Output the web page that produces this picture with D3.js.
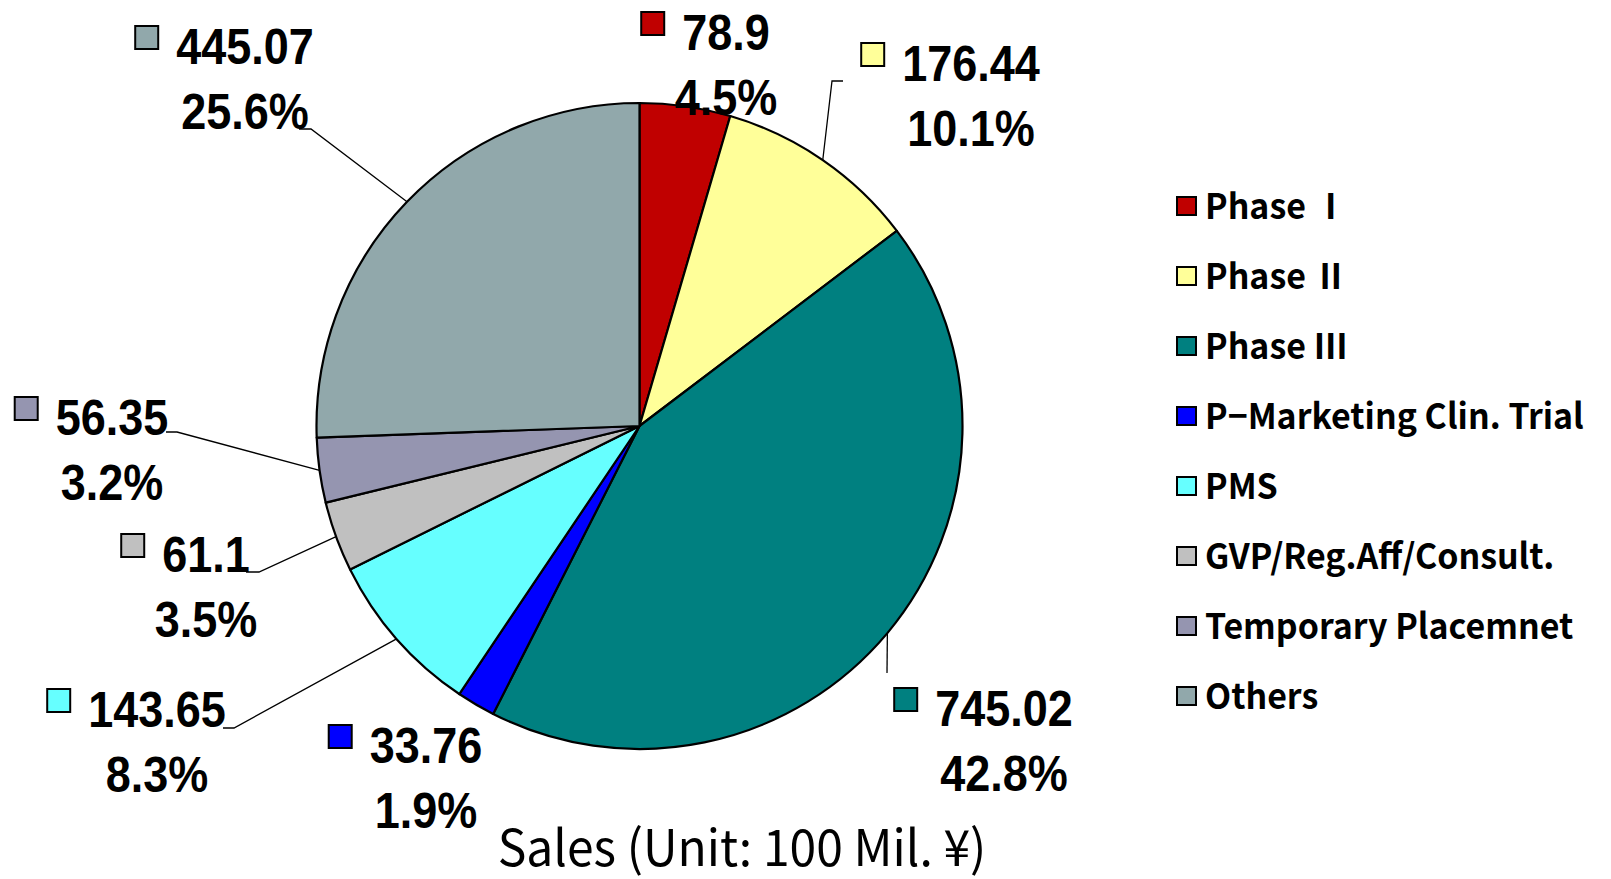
<!DOCTYPE html>
<html>
<head>
<meta charset="utf-8">
<script src="https://cdn.jsdelivr.net/npm/d3@7"></script>
<style>
  body { margin: 0; background: #fff; }
  svg { display: block; }
  .legend text { font-feature-settings: "palt" 1; }
</style>
</head>
<body>
<svg id="chart"></svg>
<script>
// data
var categories = ["Phase \u2160", "Phase \u2161", "Phase \u2162", "P\u2212Marketing Clin. Trial", "PMS", "GVP/Reg.Aff/Consult.", "Temporary Placemnet", "Others"];
var sales = [78.9, 176.44, 745.02, 33.76, 143.65, 61.1, 56.35, 445.07];
var colors = ["#C00000", "#FFFF99", "#008080", "#0000FF", "#66FFFF", "#C0C0C0", "#9595B0", "#91A8AB"];
var axisTitle = "Sales (Unit: 100 Mil. \u00A5)";

// layout
var width = 1611, height = 879;
var cx = 639.5, cy = 426, radius = 323;
// hand placed data labels: text center x, value baseline, leader elbow points (absolute)
var labelPos = [
  {x: 726, y: 50,  lead: []},
  {x: 971, y: 81,  lead: [[832, 81], [843, 81]]},
  {x: 1004, y: 726, lead: [[887, 673]]},
  {x: 426, y: 763, lead: []},
  {x: 157, y: 727, lead: [[234, 728], [223, 728]]},
  {x: 206, y: 572, lead: [[259, 572], [246, 572]]},
  {x: 112, y: 435, lead: [[177, 432], [166, 432]]},
  {x: 245, y: 64,  lead: [[311, 129], [299, 129]]}
];

var total = d3.sum(sales);
var pct = d3.format(".1%");

var svg = d3.select('#chart')
    .attr('width', width)
    .attr('height', height);

var pieData = d3.pie().sort(null).value(d => d)(sales);
var arc = d3.arc().innerRadius(0).outerRadius(radius);
var edge = d3.arc().innerRadius(radius).outerRadius(radius);

var chart = svg.append('g')
    .attr('transform', 'translate(' + cx + ',' + cy + ')');

chart.selectAll('.arc')
    .data(pieData)
  .enter().append('path')
    .attr('class', 'arc')
    .attr('fill', (d, i) => colors[i])
    .attr('stroke', '#000')
    .attr('stroke-width', 2.2)
    .attr('stroke-linejoin', 'round')
    .attr('d', arc);

// leader lines from slice edge (mid angle) to label
pieData.forEach(function(d, i) {
  var lp = labelPos[i];
  if (!lp.lead.length) return;
  var c = edge.centroid(d);
  var pts = [[cx + c[0], cy + c[1]]].concat(lp.lead);
  svg.append('path')
      .attr('d', d3.line()(pts))
      .attr('fill', 'none')
      .attr('stroke', '#000')
      .attr('stroke-width', 1.3);
});

// data labels
var labelFont = '"Liberation Sans", Arial, sans-serif';
var sx = 0.9;
sales.forEach(function(v, i) {
  var lp = labelPos[i];
  var g = svg.append('g').attr('transform', 'translate(' + lp.x + ',' + lp.y + ')');
  var t1 = g.append('text')
      .attr('transform', 'scale(' + sx + ',1)')
      .attr('text-anchor', 'middle')
      .attr('font-family', labelFont)
      .attr('font-weight', 'bold')
      .attr('font-size', 50)
      .text(v);
  g.append('text')
      .attr('transform', 'translate(0,65) scale(' + sx + ',1)')
      .attr('text-anchor', 'middle')
      .attr('font-family', labelFont)
      .attr('font-weight', 'bold')
      .attr('font-size', 50)
      .text(pct(v / total));
  var w = t1.node().getComputedTextLength() * sx;
  g.append('rect')
      .attr('x', -w / 2 - 18 - 23)
      .attr('y', -38)
      .attr('width', 23)
      .attr('height', 23)
      .attr('fill', colors[i])
      .attr('stroke', '#000')
      .attr('stroke-width', 2);
});

// legend
var legend = svg.append('g').attr('class', 'legend').attr('transform', 'translate(1177,206)');
var rows = legend.selectAll('.row')
    .data(categories)
  .enter().append('g')
    .attr('class', 'row')
    .attr('transform', (d, i) => 'translate(0,' + (i * 70) + ')');
rows.append('rect')
    .attr('x', 0).attr('y', -9)
    .attr('width', 19).attr('height', 18)
    .attr('fill', (d, i) => colors[i])
    .attr('stroke', '#000')
    .attr('stroke-width', 2);
rows.append('text')
    .attr('transform', 'translate(28,13) scale(0.97,1)')
    .attr('font-family', '"Noto Sans CJK JP", "Noto Sans", sans-serif')
    .attr('font-weight', 'bold')
    .attr('font-size', 35)
    .text(d => d);

// axis title
svg.append('text')
    .attr('transform', 'translate(742,866) scale(0.96,1)')
    .attr('text-anchor', 'middle')
    .attr('font-family', '"Noto Sans CJK JP", "Noto Sans", sans-serif')
    .attr('font-size', 50)
    .text(axisTitle);
</script>
</body>
</html>
